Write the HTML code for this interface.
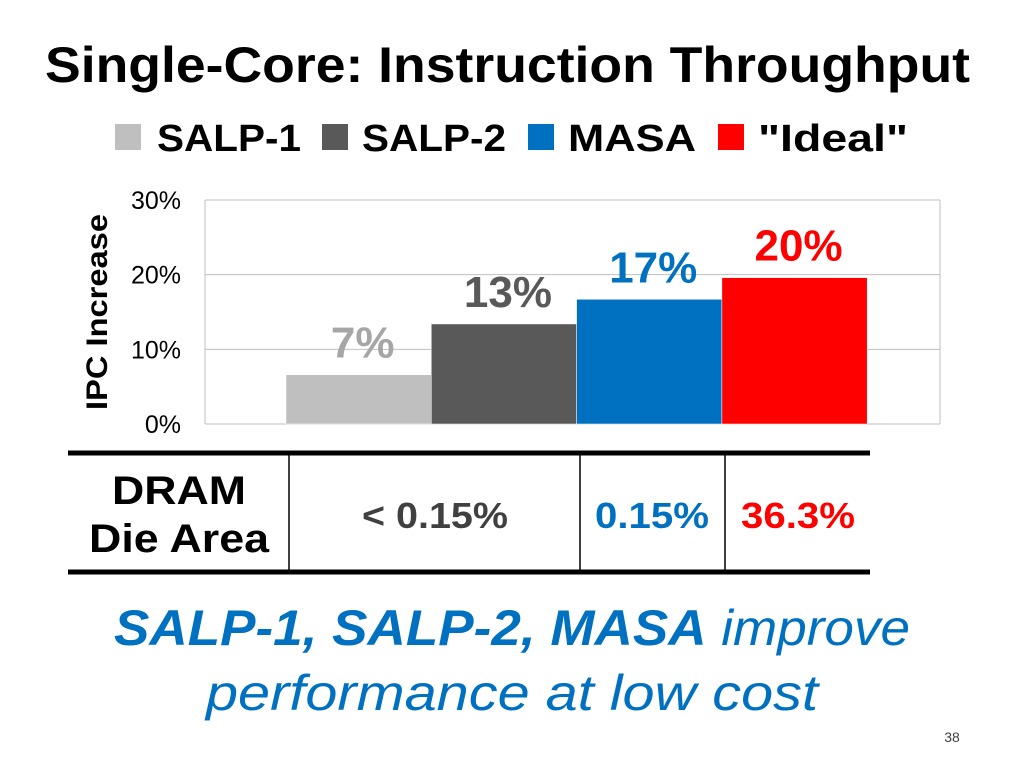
<!DOCTYPE html>
<html><head><meta charset="utf-8"><style>
body{margin:0;background:#fff;}
svg{display:block;font-family:"Liberation Sans",sans-serif;}
</style></head><body>
<svg id="c" width="1024" height="768">
<text x="45" y="82" font-size="50" font-weight="bold" textLength="925" lengthAdjust="spacingAndGlyphs">Single-Core: Instruction Throughput</text>
<g>
<rect x="115" y="124" width="26" height="26" fill="#bfbfbf"/>
<text x="157" y="151" font-size="38" font-weight="bold" textLength="144" lengthAdjust="spacingAndGlyphs">SALP-1</text>
<rect x="322" y="124" width="26" height="26" fill="#595959"/>
<text x="362" y="151" font-size="38" font-weight="bold" textLength="144" lengthAdjust="spacingAndGlyphs">SALP-2</text>
<rect x="528" y="124" width="26" height="26" fill="#0070c0"/>
<text x="568" y="151" font-size="38" font-weight="bold" textLength="128" lengthAdjust="spacingAndGlyphs">MASA</text>
<rect x="718" y="124" width="26" height="26" fill="#ff0000"/>
<text x="758" y="151" font-size="38" font-weight="bold" textLength="150" lengthAdjust="spacingAndGlyphs">"Ideal"</text>
</g>
<text transform="translate(107,312) rotate(-90)" text-anchor="middle" font-size="30" font-weight="bold" textLength="196" lengthAdjust="spacingAndGlyphs">IPC Increase</text>
<g id="plot"></g>
<g>
<line x1="68" y1="453" x2="870" y2="453" stroke="#000" stroke-width="5"/>
<line x1="68" y1="572" x2="870" y2="572" stroke="#000" stroke-width="5"/>
<line x1="289" y1="453" x2="289" y2="572" stroke="#000" stroke-width="1.5"/>
<line x1="580" y1="453" x2="580" y2="572" stroke="#000" stroke-width="1.5"/>
<line x1="725" y1="453" x2="725" y2="572" stroke="#000" stroke-width="1.5"/>
<text x="179" y="504" text-anchor="middle" font-size="40" font-weight="bold" textLength="134" lengthAdjust="spacingAndGlyphs">DRAM</text>
<text x="179" y="552" text-anchor="middle" font-size="40" font-weight="bold" textLength="180" lengthAdjust="spacingAndGlyphs">Die Area</text>
<text x="435" y="528" text-anchor="middle" font-size="36" font-weight="bold" fill="#404040" textLength="146" lengthAdjust="spacingAndGlyphs">&lt; 0.15%</text>
<text x="652" y="528" text-anchor="middle" font-size="36" font-weight="bold" fill="#0070c0" textLength="114" lengthAdjust="spacingAndGlyphs">0.15%</text>
<text x="798" y="528" text-anchor="middle" font-size="36" font-weight="bold" fill="#ff0000" textLength="114" lengthAdjust="spacingAndGlyphs">36.3%</text>
</g>
<text x="512" y="645" text-anchor="middle" font-size="50" font-style="italic" fill="#0070c0" textLength="796" lengthAdjust="spacingAndGlyphs"><tspan font-weight="bold">SALP-1, SALP-2, MASA</tspan> improve</text>
<text x="512" y="710" text-anchor="middle" font-size="50" font-style="italic" fill="#0070c0" textLength="612" lengthAdjust="spacingAndGlyphs">performance at low cost</text>
<text x="952" y="742" text-anchor="middle" font-size="14" fill="#404040">38</text>
</svg>
<script>
const categories=["SALP-1","SALP-2","MASA","Ideal"];
const values=[6.6,13.4,16.7,19.6];
const valueLabels=["7%","13%","17%","20%"];
const yTicks=[0,10,20,30];
const colors=["#bfbfbf","#595959","#0070c0","#ff0000"];
const labelColors=["#a6a6a6","#595959","#0070c0","#ff0000"];
const NS="http://www.w3.org/2000/svg";
const g=document.getElementById("plot");
const x0=205,x1=940,y0=424,y1=200,bx=286,bw=145.3;
const y=v=>y0-(v/30)*(y0-y1);
const xb=i=>bx+i*bw;
function mk(t,a){const e=document.createElementNS(NS,t);for(const k in a)e.setAttribute(k,a[k]);g.appendChild(e);return e;}
yTicks.forEach(t=>{
 const l=mk("line",{x1:x0,x2:x1,y1:y(t),y2:y(t),stroke:"#bfbfbf","stroke-width":1});
 
 
 const tx=mk("text",{x:181,y:y(t)+9,"text-anchor":"end","font-size":25,fill:"#000"});
 tx.textContent=t+"%";
 
 
});
const r=mk("line",{x1:x1,x2:x1,y1:y1,y2:y0,stroke:"#bfbfbf"});


const ax=mk("line",{x1:x0,x2:x0,y1:y1,y2:y0,stroke:"#bfbfbf"});


values.forEach((v,i)=>{
 const b=mk("rect",{x:xb(i),y:y(v),width:bw,height:y0-y(v),fill:colors[i],stroke:"#fff","stroke-width":0.5});
 
 
 const t=mk("text",{x:xb(i)+bw/2+(i==0?4:4),y:y(v)-17,"text-anchor":"middle","font-size":44,"font-weight":"bold",fill:labelColors[i]});
 t.textContent=valueLabels[i];
 
 
});
</script>
</body></html>
